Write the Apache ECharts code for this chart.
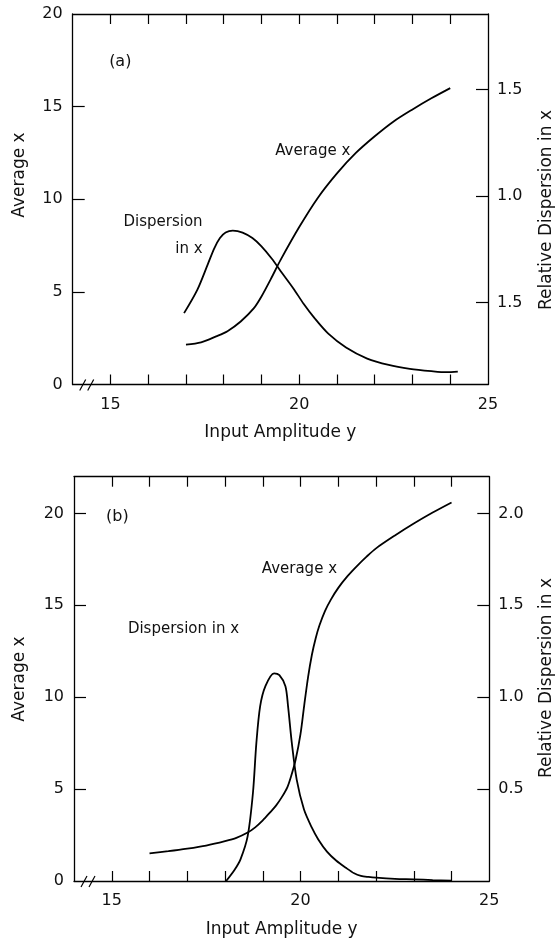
<!DOCTYPE html>
<html>
<head>
<meta charset="utf-8">
<script src="https://cdn.jsdelivr.net/npm/echarts@6/dist/echarts.min.js"></script>
<style>
html,body{margin:0;padding:0;background:#fff;}
#chart{width:555px;height:939px;}
</style>
</head>
<body>
<div id="chart"></div>
<script>
// ---------- data ----------
// Panel (a)
const avgA_x = [17.0, 17.4, 17.8, 18.1, 18.45, 18.8, 19.0, 19.25, 19.5, 20.0, 20.5, 21.0, 21.5, 22.0, 22.5, 23.0, 23.5, 24.0];
const avgA_y = [2.15, 2.28, 2.6, 2.88, 3.4, 4.12, 4.75, 5.7, 6.7, 8.5, 10.1, 11.4, 12.5, 13.4, 14.2, 14.85, 15.45, 16.0];
const dispA_x = [16.95, 17.3, 17.58, 17.75, 17.9, 18.05, 18.24, 18.5, 18.76, 19.0, 19.27, 19.55, 19.84, 20.12, 20.4, 20.77, 21.24, 21.8, 22.37, 22.93, 23.5, 23.9, 24.2];
const dispA_y = [0.451, 0.560, 0.681, 0.755, 0.803, 0.829, 0.838, 0.829, 0.803, 0.764, 0.707, 0.638, 0.568, 0.494, 0.429, 0.355, 0.290, 0.238, 0.208, 0.190, 0.179, 0.174, 0.177];
// Panel (b)
const avgB_x = [16.0, 16.5, 17.0, 17.5, 18.0, 18.3, 18.6, 18.8, 19.0, 19.2, 19.35, 19.5, 19.65, 19.75, 19.87, 20.0, 20.1, 20.2, 20.3, 20.4, 20.5, 20.65, 20.8, 21.0, 21.25, 21.5, 21.75, 22.0, 22.5, 23.0, 23.5, 24.0];
const avgB_y = [1.5, 1.62, 1.76, 1.93, 2.17, 2.35, 2.64, 2.92, 3.3, 3.75, 4.1, 4.55, 5.1, 5.7, 6.6, 8.0, 9.6, 11.1, 12.3, 13.2, 13.9, 14.7, 15.3, 15.95, 16.6, 17.15, 17.65, 18.1, 18.8, 19.45, 20.05, 20.6];
const dispB_x = [18.03, 18.25, 18.41, 18.6, 18.74, 18.83, 18.93, 19.07, 19.3, 19.44, 19.6, 19.67, 19.77, 19.9, 20.09, 20.3, 20.47, 20.7, 20.95, 21.2, 21.42, 21.6, 21.8, 22.0, 22.5, 23.0, 23.5, 24.0];
const dispB_y = [0.0, 0.06, 0.118, 0.244, 0.48, 0.75, 0.95, 1.06, 1.13, 1.12, 1.06, 0.95, 0.75, 0.55, 0.39, 0.29, 0.226, 0.16, 0.11, 0.072, 0.042, 0.028, 0.022, 0.018, 0.012, 0.009, 0.005, 0.002];

// axis ticks / labels
const xTickValues = [15, 16, 17, 18, 19, 20, 21, 22, 23, 24];
const xLabelValues = [15, 20, 25];
const leftTickValues = [5, 10, 15];
const leftTickValuesB = [5, 10, 15, 20];
const leftLabelValues = [0, 5, 10, 15, 20];
const rightTickValuesA = [0.5, 1.0, 1.5];
const rightTickLabelsA = ['1.5', '1.0', '1.5'];
const rightTickValuesB = [0.5, 1.0, 1.5, 2.0];
const rightTickLabelsB = ['0.5', '1.0', '1.5', '2.0'];

// ---------- styling ----------
const FONT = 'DejaVu Sans';
const INK = '#111';
const pair = (xs, ys) => xs.map((x, i) => [x, ys[i]]);
const lineStyle = {color: '#000', width: 1.3};
const tickStyle = {color: '#000', width: 1.2};

function xAxisDef(grid, pos) {
  const bottom = pos === 'bottom';
  return {
    gridIndex: grid, type: 'value', position: pos, min: 14, max: 25,
    axisLine: {show: true, onZero: false, lineStyle: lineStyle},
    axisTick: {show: true, inside: true, length: 10, customValues: xTickValues, lineStyle: tickStyle},
    axisLabel: {show: bottom, customValues: xLabelValues, margin: 12, fontSize: 16, color: INK, fontFamily: FONT},
    splitLine: {show: false},
    name: bottom ? 'Input Amplitude y' : '',
    nameLocation: 'middle', nameGap: 40,
    nameTextStyle: {fontSize: 17, color: INK, fontFamily: FONT}
  };
}
function leftAxisDef(grid, max, ticks) {
  return {
    gridIndex: grid, type: 'value', position: 'left', min: 0, max: max,
    axisLine: {show: true, lineStyle: lineStyle},
    axisTick: {show: true, inside: true, length: 12, customValues: ticks, lineStyle: tickStyle},
    axisLabel: {customValues: leftLabelValues, margin: 10, fontSize: 16, color: INK, fontFamily: FONT},
    splitLine: {show: false}
  };
}
function rightAxisDef(grid, min, max, vals, labels) {
  return {
    gridIndex: grid, type: 'value', position: 'right', min: min, max: max,
    axisLine: {show: true, lineStyle: lineStyle},
    axisTick: {show: true, inside: true, length: 12, customValues: vals, lineStyle: tickStyle},
    axisLabel: {customValues: vals, margin: 9, fontSize: 16, color: INK, fontFamily: FONT,
      formatter: v => { const i = vals.findIndex(t => Math.abs(t - v) < 1e-6); return i >= 0 ? labels[i] : ''; }},
    splitLine: {show: false}
  };
}
function curve(name, xi, yi, data) {
  return {
    name: name, type: 'line', xAxisIndex: xi, yAxisIndex: yi, data: data,
    showSymbol: false, smooth: 0.3, lineStyle: {color: '#000', width: 1.8}, silent: true, animation: false
  };
}

const chart = echarts.init(document.getElementById('chart'), null, {renderer: 'canvas'});
chart.setOption({
  backgroundColor: '#fff',
  animation: false,
  grid: [
    {left: 72.7, top: 14, width: 415.3, height: 370.5},
    {left: 74, top: 476.7, width: 415.3, height: 405.3}
  ],
  xAxis: [xAxisDef(0, 'bottom'), xAxisDef(0, 'top'), xAxisDef(1, 'bottom'), xAxisDef(1, 'top')],
  yAxis: [
    leftAxisDef(0, 20, leftTickValues),
    rightAxisDef(0, 0.1164, 1.854, rightTickValuesA, rightTickLabelsA),
    leftAxisDef(1, 22, leftTickValuesB),
    rightAxisDef(1, 0, 2.2, rightTickValuesB, rightTickLabelsB)
  ],
  series: [
    curve('Average x (a)', 0, 0, pair(avgA_x, avgA_y)),
    curve('Dispersion in x (a)', 0, 1, pair(dispA_x, dispA_y)),
    curve('Average x (b)', 2, 2, pair(avgB_x, avgB_y)),
    curve('Dispersion in x (b)', 2, 3, pair(dispB_x, dispB_y))
  ]
});

// ---------- annotations ----------
const px = (xi, yi, x, y) => chart.convertToPixel({xAxisIndex: xi, yAxisIndex: yi}, [x, y]);
const txtStyle = (t, align, size) => ({text: t, fill: INK, font: (size || 15) + 'px "' + FONT + '"', align: align || 'center', verticalAlign: 'middle', lineHeight: 27});
const gA = px(0, 0, 14, 0);
const gB = px(2, 2, 14, 0);
const items = [];
function addText(p, t, align, size) { items.push({type: 'text', x: p[0], y: p[1], style: txtStyle(t, align, size), silent: true}); }
function addVText(x, y, t) { items.push({type: 'text', x: x, y: y, rotation: Math.PI / 2, style: txtStyle(t, 'center', 17), silent: true}); }

addText(px(0, 0, 15.26, 17.4), '(a)', 'center', 16);
addText(px(0, 0, 20.36, 12.6), 'Average x');
addText(px(0, 0, 17.44, 8.05), 'Dispersion\nin x', 'right');
addText(px(2, 2, 15.15, 19.8), '(b)', 'center', 16);
addText(px(2, 2, 19.97, 16.96), 'Average x');
addText(px(2, 2, 16.9, 13.7), 'Dispersion in x');
addVText(19.5, 175, 'Average x');
addVText(547, 210, 'Relative Dispersion in x');
addVText(19.5, 679, 'Average x');
addVText(547, 678, 'Relative Dispersion in x');

// axis-break marks on the bottom axes
[gA, gB].forEach(g => {
  const y = g[1], x0 = g[0];
  items.push({type: 'rect', shape: {x: x0 + 10, y: y - 2, width: 7, height: 4}, style: {fill: '#fff'}, silent: true});
  items.push({type: 'line', shape: {x1: x0 + 7, y1: y + 6, x2: x0 + 13, y2: y - 5}, style: {stroke: '#000', lineWidth: 1.2}, silent: true});
  items.push({type: 'line', shape: {x1: x0 + 15, y1: y + 6, x2: x0 + 21, y2: y - 5}, style: {stroke: '#000', lineWidth: 1.2}, silent: true});
});
chart.setOption({graphic: items});
</script>
</body>
</html>
